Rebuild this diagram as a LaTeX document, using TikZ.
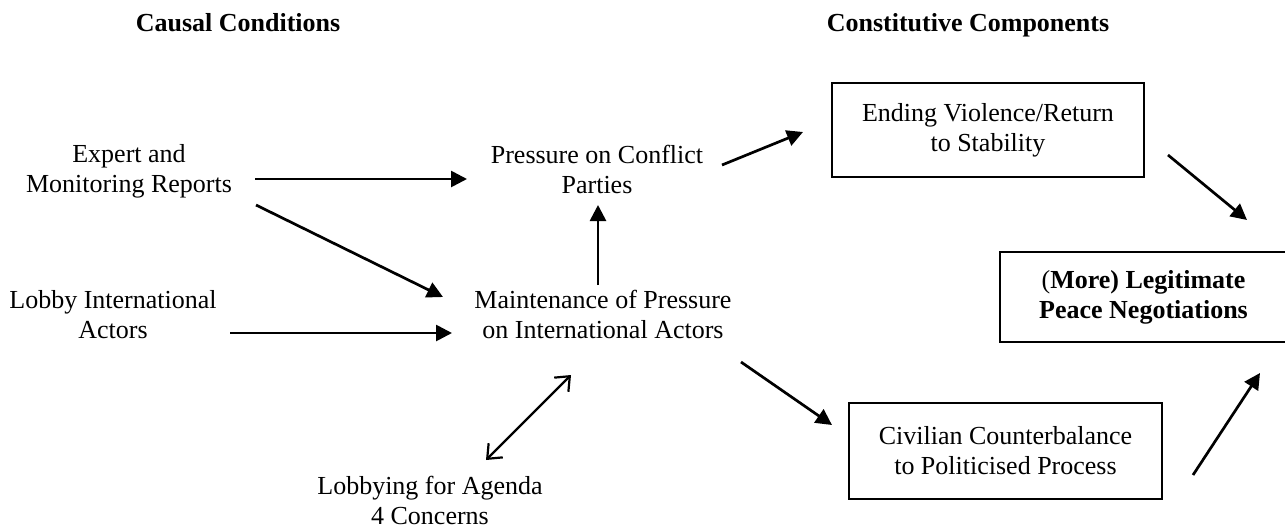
\documentclass[tikz,border=0pt]{standalone}
\usepackage{fontspec}
\setmainfont{Liberation Serif}
\usetikzlibrary{arrows.meta}
\begin{document}
\begin{tikzpicture}[x=1pt,y=-1pt,
  every node/.style={font=\fontsize{26}{30}\selectfont, align=center, inner sep=0pt},
  label/.style={anchor=base},
  heading/.style={font=\fontsize{26}{30}\selectfont\bfseries, anchor=base},
  stagebox/.style={draw, line width=1.8pt},
  arr/.style={line width=2.7pt, -{Triangle[length=16pt,width=16pt]}},
  dblarr/.style={line width=2.2pt, {Straight Barb[length=12pt,width=20pt,line width=2.2pt]}-{Straight Barb[length=12pt,width=20pt,line width=2.2pt]}}]
\useasboundingbox (0,0) rectangle (1285,528);

% column headings
\node[heading] (hcausal) at (238,31) {Causal Conditions};
\node[heading] (hconst) at (968,31) {Constitutive Components};

% causal conditions (placed by the baseline of their last line)
\node[label] (expert) at (129,192) {Expert and\\Monitoring Reports};
\node[label] (lobby) at (113,338) {Lobby International\\Actors};
\node[label] (pcp) at (597,193) {Pressure on Conflict\\Parties};
\node[label] (maint) at (603,338) {Maintenance of Pressure\\on International Actors};
\node[label] (agenda) at (430,524) {Lobbying for Agenda\\4 Concerns};

% constitutive components
\node[stagebox, minimum width=312pt, minimum height=94pt] (ending) at (988,130) {Ending Violence/Return\\to Stability};
\node[stagebox, minimum width=313pt, minimum height=96pt] (civ) at (1005.5,451) {Civilian Counterbalance\\to Politicised Process};
\node[stagebox, minimum width=287pt, minimum height=90pt] (legit) at (1143.5,297) {({\bfseries More) Legitimate}\\\bfseries Peace Negotiations};

% connectors
\draw[arr] ([shift={(126,-13)}]expert.base) -- ([shift={(-130,-14)}]pcp.base);
\draw[arr] ([shift={(127,13)}]expert.base) -- ([shift={(-160,-41)}]maint.base);
\draw[arr] ([shift={(117,-5)}]lobby.base) -- ([shift={(-151,-5)}]maint.base);
\draw[arr] ([shift={(-5,-53)}]maint.base) -- ([shift={(1,12)}]pcp.base);
\draw[arr] ([shift={(125,-28)}]pcp.base) -- ([shift={(-185,2)}]ending.center);
\draw[arr] ([shift={(180,25)}]ending.center) -- ([shift={(103.5,-77)}]legit.center);
\draw[arr] ([shift={(138,24)}]maint.base) -- ([shift={(-173.5,-26)}]civ.center);
\draw[arr] ([shift={(187.5,24)}]civ.center) -- ([shift={(116.5,76)}]legit.center);
\draw[dblarr] ([shift={(56,-64)}]agenda.base) -- ([shift={(-32,37)}]maint.base);
\end{tikzpicture}
\end{document}
